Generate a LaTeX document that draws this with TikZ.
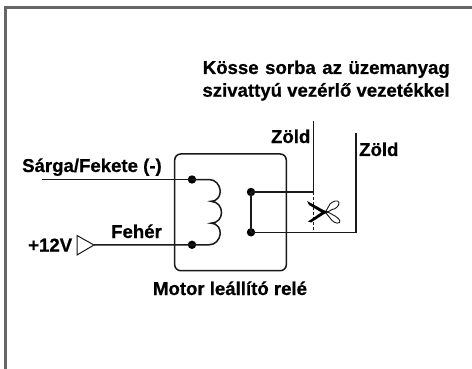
\documentclass[tikz,border=0pt]{standalone}
\usepackage{fontspec}
\setmainfont[BoldFeatures={FakeBold=0.6}]{Liberation Sans}
\tikzset{
 wire/.style={draw=black!90,line width=1.5pt},
 thinline/.style={draw=black!90,line width=1pt},
 lbl/.style={font=\fontsize{18.6}{20}\selectfont\bfseries,inner sep=0pt,text=black},
 dotn/.style={circle,fill=black,inner sep=0pt,minimum size=8.4pt},
 relaybox/.style={draw=black!90,line width=1.5pt,rounded corners=6pt},
 frameline/.style={draw=black!60,line width=2.8pt}
}
\begin{document}
\begin{tikzpicture}[x=1pt,y=-1pt]
\useasboundingbox (0,0) rectangle (472,369);
\fill[white] (0,0) rectangle (472,369);
\draw[frameline] (5.7,369) -- (5.7,7.2) -- (472,7.2);
\draw[relaybox] (174.7,154) rectangle (286.3,270.7);
\node[dotn] (c1) at (192,179.5) {};
\node[dotn] (c2) at (192,244.8) {};
\node[dotn] (s1) at (251,192) {};
\node[dotn] (s2) at (251,232.3) {};
\coordinate (inA) at (42,179.5);
\coordinate (tri) at (94,245);
\coordinate (g1) at (313.7,121);
\coordinate (j1) at (313.7,192);
\coordinate (j2) at (313.7,232.3);
\coordinate (g2) at (356,133);
\coordinate (g2c) at (356,232.3);
% wires
\draw[wire] (inA) -- (c1.center);
\draw[wire] (tri) -- (c2.center);
\draw[wire] (s1.center) -- (s2.center);
\draw[wire] (g1) -- (j1) -- (s1.center);
\draw[wire] (s2.center) -- (g2c) -- (g2);
\draw[thinline,dash pattern=on 2.5pt off 2.5pt] (j1) -- (j2);
% coil
\draw[wire] (c1.center) -- (209,179.5)
 .. controls (222,179.5) and (225,200.5) .. (211,201.3)
 .. controls (225,202) and (225,223) .. (211,223.2)
 .. controls (225,224) and (222,244.8) .. (209,244.8) -- (c2.center);
% input triangle
\draw[thinline,line join=miter] (tri) -- (77,235.5) -- (77,255) -- cycle;
% scissors
\fill[black] (307,201) -- (328,212.5) -- (324,214) -- (309,205) -- cycle;
\fill[black] (308,221.5) -- (324,210.5) -- (328,211.5) -- (311,222.5) -- cycle;
\draw[thinline,line width=0.9pt] (326,211) -- (330,204) .. controls (333,201) and (338,199.5) .. (339,202.5)
 .. controls (339.5,206) and (335,209.5) .. (332,209.5) -- (326,213);
\draw[thinline,line width=0.9pt] (326,211) -- (335,216) .. controls (338,218) and (341,220.5) .. (339.5,222.5)
 .. controls (337,224.5) and (332,221.5) .. (330,218) -- (326,213);
% labels
\node[lbl,anchor=base] (t1) at (326.3,74) {\hbox to 247pt{Kösse\hfil sorba\hfil az\hfil üzemanyag}};
\node[lbl,anchor=base] (t2) at (326,96.7) {szivattyú vezérlő vezetékkel};
\node[lbl,anchor=base east] (z1) at (310.5,143) {Zöld};
\node[lbl,anchor=base west] (z2) at (359,156) {Zöld};
\node[lbl,anchor=base west] (sf) at (22,172) {Sárga/Fekete (-)};
\node[lbl,anchor=base west] (fe) at (111,238) {Fehér};
\node[lbl,anchor=base west] (v) at (28,251.5) {+12V};
\node[lbl,anchor=base] (m) at (230,295) {Motor leállító relé};
\end{tikzpicture}
\end{document}
